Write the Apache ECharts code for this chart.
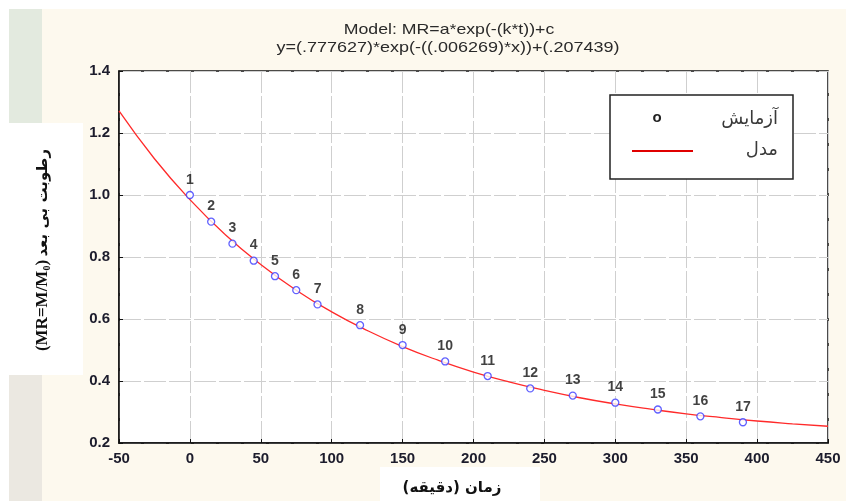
<!DOCTYPE html>
<html>
<head>
<meta charset="utf-8">
<script src="https://cdn.jsdelivr.net/npm/echarts@6/dist/echarts.min.js"></script>
<style>
  html, body { margin: 0; padding: 0; background: #fff; }
  #main { width: 846px; height: 501px; }
</style>
</head>
<body>
<div id="main"></div>
<script>
// measured points (time in minutes, moisture ratio)
const times = [0, 15, 30, 45, 60, 75, 90, 120, 150, 180, 210, 240, 270, 300, 330, 360, 390]
const mrValues = [1.0, 0.914, 0.843, 0.788, 0.738, 0.693, 0.647, 0.580, 0.516, 0.463, 0.416, 0.376, 0.353, 0.330, 0.308, 0.286, 0.267]
const pointLabels = ['1', '2', '3', '4', '5', '6', '7', '8', '9', '10', '11', '12', '13', '14', '15', '16', '17']

// fitted model curve
const curveX = [-50, -25, 0, 25, 50, 75, 100, 125, 150, 175, 200, 225, 250, 275, 300, 325, 350, 375, 400, 425, 450]
const curveY = [1.271, 1.117, 0.985, 0.872, 0.776, 0.693, 0.623, 0.563, 0.511, 0.467, 0.429, 0.397, 0.370, 0.346, 0.326, 0.309, 0.294, 0.282, 0.271, 0.262, 0.254]

const titleLines = ['Model: MR=a*exp(-(k*t))+c', 'y=(.777627)*exp(-((.006269)*x))+(.207439)']
const legendNames = ['آزمایش', 'مدل']

const chart = echarts.init(document.getElementById('main'))

const pointData = times.map((t, i) => [t, mrValues[i]])
const lineData = curveX.map((x, i) => [x, curveY[i]])

const latin = 'Liberation Sans, Arial, sans-serif'
const persian = 'DejaVu Sans, sans-serif'

const option = {
  backgroundColor: '#ffffff',
  animation: false,
  graphic: [
    // page background pieces
    { type: 'rect', z: -10, silent: true, shape: { x: 9, y: 9, width: 837, height: 492 }, style: { fill: '#fdf9ee' } },
    { type: 'rect', z: -9, silent: true, shape: { x: 9, y: 9, width: 33, height: 114 }, style: { fill: '#e3eadf' } },
    { type: 'rect', z: -9, silent: true, shape: { x: 9, y: 375, width: 33, height: 126 }, style: { fill: '#ebe8e1' } },
    { type: 'rect', z: -8, silent: true, shape: { x: 0, y: 123, width: 83, height: 252 }, style: { fill: '#ffffff' } },
    { type: 'rect', z: -8, silent: true, shape: { x: 380, y: 467, width: 160, height: 34 }, style: { fill: '#ffffff' } },
    // title lines (slightly stretched like the original)
    { type: 'text', z: 5, x: 449, y: 30, scaleX: 1.18, style: { text: titleLines[0], align: 'center', verticalAlign: 'middle', font: '15px ' + latin, fill: '#2a2a2a' } },
    { type: 'text', z: 5, x: 448, y: 48, scaleX: 1.2, style: { text: titleLines[1], align: 'center', verticalAlign: 'middle', font: '15px ' + latin, fill: '#2a2a2a' } },
    // legend box
    { type: 'rect', z: 20, shape: { x: 610, y: 95, width: 183, height: 84 }, style: { fill: '#ffffff', stroke: '#222', lineWidth: 1.5 } },
    { type: 'text', z: 21, style: { text: 'o', x: 657, y: 118, align: 'center', verticalAlign: 'middle', font: 'bold 15px ' + latin, fill: '#222' } },
    { type: 'text', z: 21, style: { text: legendNames[0], x: 778, y: 119, align: 'right', verticalAlign: 'middle', font: '18px ' + persian, fill: '#3a3a3a' } },
    { type: 'line', z: 21, shape: { x1: 632, y1: 151, x2: 693, y2: 151 }, style: { stroke: '#e00000', lineWidth: 2 } },
    { type: 'text', z: 21, style: { text: legendNames[1], x: 778, y: 150, align: 'right', verticalAlign: 'middle', font: '18px ' + persian, fill: '#3a3a3a' } },
    // axis titles
    { type: 'text', z: 5, x: 452, y: 488, style: { text: 'زمان (دقیقه)', align: 'center', verticalAlign: 'middle', font: 'bold 15px ' + persian, fill: '#111' } },
    {
      type: 'text', z: 5, x: 43, y: 250, rotation: Math.PI / 2,
      style: {
        text: '{a|(MR=M/M}{s|0}{a|)} {b|رطوبت بی بعد}',
        align: 'center', verticalAlign: 'middle', fill: '#111',
        rich: {
          a: { font: 'bold 17px Liberation Serif, serif', fill: '#111' },
          s: { font: 'bold 10px Liberation Serif, serif', fill: '#111', padding: [8, 0, 0, 0] },
          b: { font: 'bold 15px ' + persian, fill: '#111' }
        }
      }
    }
  ],
  grid: {
    left: 119, right: 18, top: 71, bottom: 58,
    show: true, backgroundColor: '#ffffff', borderColor: '#111', borderWidth: 1.5
  },
  xAxis: {
    type: 'value', min: -50, max: 450, interval: 50,
    axisLine: { show: true, onZero: false, lineStyle: { color: '#111', width: 1.5 } },
    axisTick: { show: true, inside: true, length: 4, lineStyle: { color: '#111' } },
    axisLabel: { color: '#1c1c2c', fontSize: 15, fontWeight: 'bold', fontFamily: latin, margin: 8 },
    splitLine: { show: true, lineStyle: { color: '#cfcfcf', width: 1, type: [22, 3] } }
  },
  yAxis: {
    type: 'value', min: 0.2, max: 1.4, interval: 0.2,
    axisLine: { show: true, onZero: false, lineStyle: { color: '#111', width: 1.5 } },
    axisTick: { show: true, inside: true, length: 4, lineStyle: { color: '#111' } },
    axisLabel: { color: '#1c1c2c', fontSize: 15, fontWeight: 'bold', fontFamily: latin, margin: 9, formatter: v => v.toFixed(1) },
    splitLine: { show: true, lineStyle: { color: '#cfcfcf', width: 1, type: [22, 3] } }
  },
  series: [
    {
      name: legendNames[1],
      type: 'line',
      data: lineData,
      smooth: true,
      symbol: 'none',
      lineStyle: { color: '#ff2a2a', width: 1.3 },
      z: 3
    },
    {
      name: legendNames[0],
      type: 'scatter',
      data: pointData,
      symbol: 'circle',
      symbolSize: 7,
      itemStyle: { color: '#ffffff', borderColor: '#3a3aff', borderWidth: 1.3 },
      label: {
        show: true,
        position: 'top',
        distance: 4,
        formatter: p => pointLabels[p.dataIndex],
        color: '#111',
        fontSize: 14,
        fontWeight: 'bold',
        fontFamily: latin
      },
      z: 4
    }
  ]
}

chart.setOption(option)
</script>
</body>
</html>
